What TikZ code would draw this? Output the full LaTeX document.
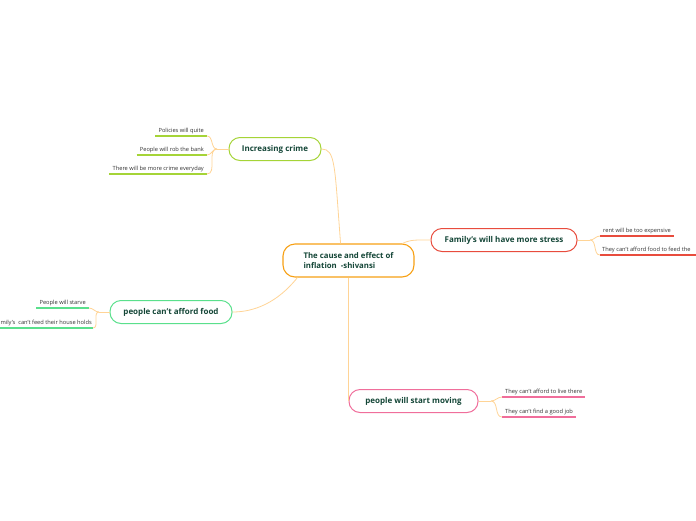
\documentclass[tikz,border=0pt]{standalone}
\usepackage{fontspec}
\setmainfont{Open Sans}
\usetikzlibrary{positioning,calc}
\definecolor{trunk}{RGB}{247,160,20}
\definecolor{twigc}{RGB}{255,212,150}
\definecolor{crimec}{RGB}{165,212,55}
\definecolor{stressc}{RGB}{232,76,61}
\definecolor{foodc}{RGB}{90,224,140}
\definecolor{movec}{RGB}{240,110,155}
\definecolor{inktext}{RGB}{20,70,55}
\definecolor{leaftext}{RGB}{50,50,50}

\begin{document}
\begin{tikzpicture}[x=1pt,y=-1pt,
    root/.style={draw=trunk,line width=1.1pt,fill=white,rounded corners=12pt,
      minimum width=131pt,minimum height=33pt,align=left,
      font=\fontsize{7.8}{10.5}\selectfont\bfseries,text=inktext},
    topic/.style={draw=#1,line width=1pt,fill=white,rounded corners=11pt,
      minimum height=23pt,font=\fontsize{8}{9}\selectfont\bfseries,text=inktext},
    leaf/.style={inner xsep=3pt,inner ysep=1.8pt,
      font=\fontsize{5.7}{6.5}\selectfont,text=leaftext},
    uline/.style={draw=#1,line width=1.1pt},
    twig/.style={draw=twigc,line width=0.8pt}
  ]
    \clip (0,0) rectangle (696,520);
    % main topics
    \node[root] (cause) at (348.5,260.5) {The cause and effect of\\inflation~ -shivansi};
    \node[topic=crimec,minimum width=92pt] (crime) at (275,149) {Increasing crime};
    \node[topic=stressc,minimum width=146pt] (stress) at (504,240) {Family's will have more stress};
    \node[topic=foodc,minimum width=122pt] (food) at (171,312) {people can't afford food};
    \node[topic=movec,minimum width=129pt] (moving) at (413.5,401) {people will start moving};
    \draw[twig] (crime.east) .. controls +(14,0) and +(-6,-78) .. ($(cause.north west)!0.44!(cause.north east)$);
    \draw[twig] ($(cause.north east)+(-12,0)$) .. controls +(8,-4) and +(-14,0) .. (stress.west);
    \draw[twig] ($(cause.south west)+(15,0)$) .. controls +(-20,25) and +(22,0) .. (food.east);
    \draw[twig] (cause.south) -- (moving.west);
    % crime leaves
    \node[leaf,anchor=south east] (police) at (207,136) {Policies will quite};
    \node[leaf,anchor=south east] (bank) at (207,155) {People will rob the bank};
    \node[leaf,anchor=south east] (everyday) at (207,174) {There will be more crime everyday};
    \coordinate (jcrime) at (217,149);
    \draw[twig] (crime.west) -- (jcrime);
    \foreach \l in {police,bank,everyday} {
      \draw[uline=crimec] (\l.south west) -- (\l.south east);
      \draw[twig] (jcrime) to[out=180,in=0] (\l.south east);
    }
    % stress leaves
    \node[leaf,anchor=south west] (rent) at (600,236) {rent will be too expensive};
    \node[leaf,anchor=south west,inner xsep=2pt] (feed) at (600,255) {They can't afford food to feed the};
    \coordinate (jstress) at (590,240);
    \draw[twig] (stress.east) -- (jstress);
    \draw[uline=stressc] (rent.south west) -- (rent.south east);
    \draw[uline=stressc] (feed.south west) -- (feed.south east -| 696,0);
    \foreach \l in {rent,feed}
      \draw[twig] (jstress) to[out=0,in=180] (\l.south west);
    % food leaves
    \node[leaf,anchor=south east] (starve) at (89,308) {People will starve};
    \node[leaf,anchor=south east,inner xsep=1pt] (holds) at (93,328) {mily's~ can't feed their house holds};
    \coordinate (jfood) at (99,312);
    \draw[twig] (food.west) -- (jfood);
    \draw[uline=foodc] (starve.south west) -- (starve.south east);
    \draw[uline=foodc] (holds.south east -| 0,0) -- (holds.south east);
    \foreach \l in {starve,holds}
      \draw[twig] (jfood) to[out=180,in=0] (\l.south east);
    % moving leaves
    \node[leaf,anchor=south west] (live) at (502,397) {They can't afford to live there};
    \node[leaf,anchor=south west] (job) at (502,417) {They can't find a good job};
    \coordinate (jmove) at (491,401);
    \draw[twig] (moving.east) -- (jmove);
    \foreach \l in {live,job} {
      \draw[uline=movec] (\l.south west) -- (\l.south east);
      \draw[twig] (jmove) to[out=0,in=180] (\l.south west);
    }
  \end{tikzpicture}
\end{document}
